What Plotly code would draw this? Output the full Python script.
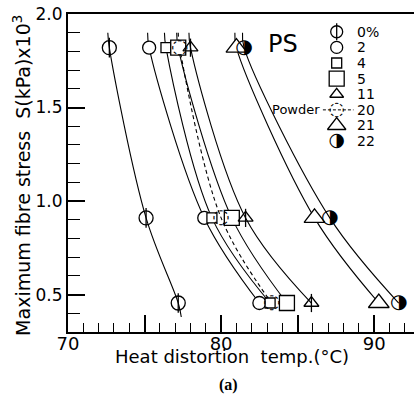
import plotly.graph_objects as go

# ---------------- data ----------------
stress = [1.82, 0.91, 0.455]          # kPa x10^3
hdt_0 = [72.7, 75.1, 77.2]
hdt_2 = [75.3, 78.9, 82.5]
hdt_4 = [76.4, 79.4, 83.2]
hdt_5 = [77.2, 80.7, 84.3]
hdt_11 = [78.0, 81.6, 85.9]
hdt_20 = [77.3, 80.0, 83.3]
hdt_21 = [81.0, 86.1, 90.3]
hdt_22 = [81.5, 87.1, 91.6]
# short curve tails above the top points (read at stress 1.9)
tail_stress = 1.9
tail_x = [72.6, 75.2, 76.3, 77.1, 77.9, 77.2, 80.9, 81.4]
# 0% curve runs a little below its last point
tail0_low = (77.4, 0.38)

labels = ["0%", "2", "4", "5", "11", "20", "21", "22"]
y_ticks = [0.5, 1.0, 1.5, 2.0]
y_ticktext = ["0.5", "1.0", "1.5", "2.0"]

series = [hdt_0, hdt_2, hdt_4, hdt_5, hdt_11, hdt_20, hdt_21, hdt_22]

# marker styles: (kind, symbol/char, size)
styles = [
    ("phi", "circle", 14),
    ("m", "circle", 13),
    ("m", "square", 10),
    ("m", "square", 15),
    ("tri", "triangle-up", 13),
    ("txt", "\u25cc", 20),
    ("m", "triangle-up", 18),
    ("txt", "\u25d1", 20),
]

fig = go.Figure()
BLACK = "black"

# curves
for i, xs in enumerate(series):
    cx = [tail_x[i]] + xs
    cy = [tail_stress] + stress
    if i == 0:
        cx = cx + [tail0_low[0]]
        cy = cy + [tail0_low[1]]
    fig.add_trace(go.Scatter(
        x=cx, y=cy, mode="lines",
        line=dict(color=BLACK, width=1.1, shape="spline", smoothing=1.0,
                  dash="4px,3px" if i == 5 else "solid"),
        showlegend=False, hoverinfo="skip"))


def add_marker(xs, ys, style, legend=False):
    kind, sym, size = style
    if kind == "txt":
        fig.add_trace(go.Scatter(
            x=xs, y=ys, mode="text", text=[sym] * len(xs),
            textposition="middle center",
            textfont=dict(family="DejaVu Sans", size=size, color=BLACK),
            showlegend=False, hoverinfo="skip"))
        return
    fill = "rgba(0,0,0,0)" if kind in ("phi", "tri") else "white"
    fig.add_trace(go.Scatter(
        x=xs, y=ys, mode="markers",
        marker=dict(symbol=sym, size=size, color=fill,
                    line=dict(color=BLACK, width=1.3)),
        showlegend=False, hoverinfo="skip"))
    if kind == "phi" or (kind == "tri" and not legend):
        fig.add_trace(go.Scatter(
            x=xs, y=ys, mode="markers",
            marker=dict(symbol="line-ns-open", size=size, color=BLACK,
                        line=dict(color=BLACK, width=1.3)),
            showlegend=False, hoverinfo="skip"))


for i, xs in enumerate(series):
    add_marker(xs, stress, styles[i])

# ---------------- hand-drawn style legend ----------------
leg_sym_x = 87.55
leg_lab_x = 88.75
leg_y0 = 1.905
leg_dy = 0.0835
leg_sizes = [12, 12, 10, 15, 12, 19, 16, 19]
for i, lab in enumerate(labels):
    yy = leg_y0 - i * leg_dy
    kind, sym, _ = styles[i]
    if i == 5:
        fig.add_trace(go.Scatter(
            x=[86.65, 88.65], y=[yy, yy], mode="lines",
            line=dict(color=BLACK, width=1, dash="3px,2px"),
            showlegend=False, hoverinfo="skip"))
        fig.add_annotation(x=86.6, y=yy, text="Powder", showarrow=False,
                           xanchor="right", yanchor="middle",
                           font=dict(family="DejaVu Sans", size=13, color=BLACK))
    add_marker([leg_sym_x], [yy], (kind, sym, leg_sizes[i]), legend=True)
    fig.add_annotation(x=leg_lab_x, y=yy, text=lab, showarrow=False,
                       xanchor="left", yanchor="middle",
                       font=dict(family="DejaVu Sans", size=14, color=BLACK))

fig.add_annotation(x=82.95, y=1.84, text="PS", showarrow=False,
                   xanchor="left", yanchor="middle",
                   font=dict(family="DejaVu Sans", size=24, color=BLACK))

# axis titles
fig.add_annotation(xref="paper", yref="paper", x=-0.133, y=0.494,
                   text="Maximum fibre stress  S(kPa)x10<sup>3</sup>",
                   textangle=-90, showarrow=False, xanchor="center", yanchor="middle",
                   font=dict(family="DejaVu Sans", size=19, color=BLACK))
fig.add_annotation(xref="paper", yref="paper", x=0.475, y=-0.078,
                   text="Heat distortion  temp.(\u00b0C)", showarrow=False,
                   xanchor="center", yanchor="middle",
                   font=dict(family="DejaVu Sans", size=18, color=BLACK))
fig.add_annotation(xref="paper", yref="paper", x=0.465, y=-0.167,
                   text="<b>(a)</b>", showarrow=False,
                   xanchor="center", yanchor="middle",
                   font=dict(family="Liberation Serif", size=16, color=BLACK))

fig.update_layout(
    width=414, height=399,
    margin=dict(l=68, r=0, t=14, b=67),
    paper_bgcolor="white", plot_bgcolor="white",
    font=dict(family="DejaVu Sans", color=BLACK),
    xaxis=dict(range=[70, 92.6], tickmode="linear", tick0=70, dtick=5,
               ticklabelstep=2, ticklabelstandoff=-6,
               ticks="inside", ticklen=17, tickwidth=1.6, tickcolor=BLACK,
               minor=dict(tick0=70, dtick=1, ticks="inside", ticklen=9,
                          tickwidth=1, tickcolor=BLACK),
               showline=True, linewidth=2, linecolor=BLACK, mirror=True,
               showgrid=False, zeroline=False,
               tickfont=dict(family="DejaVu Sans", size=18, color=BLACK)),
    yaxis=dict(range=[0.3, 2.0], tickvals=y_ticks, ticktext=y_ticktext,
               ticks="inside", ticklen=17, tickwidth=1.6, tickcolor=BLACK,
               minor=dict(tick0=0.3, dtick=0.1, ticks="inside", ticklen=12,
                          tickwidth=1, tickcolor=BLACK),
               showline=True, linewidth=2, linecolor=BLACK, mirror=False,
               showgrid=False, zeroline=False,
               tickfont=dict(family="DejaVu Sans", size=17, color=BLACK)),
    showlegend=False,
)

fig.write_html("out.html")
